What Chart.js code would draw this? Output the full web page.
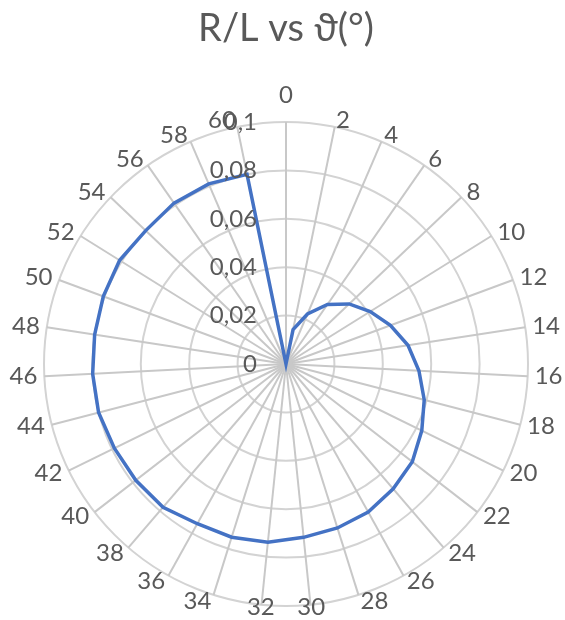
<!DOCTYPE html>
<html>
<head>
<meta charset="utf-8">
<script src="https://cdn.jsdelivr.net/npm/chart.js@4"></script>
<style>
html,body{margin:0;padding:0;background:#ffffff;}
#wrap{width:565px;height:620px;position:relative;}
</style>
</head>
<body>
<div id="wrap"><canvas id="c"></canvas></div>
<script>
// ---- data ----
const categories = ['0','2','4','6','8','10','12','14','16','18','20','22','24','26','28','30',
                    '32','34','36','38','40','42','44','46','48','50','52','54','56','58','60'];
const rValues = [0, 0.0145, 0.0225, 0.030, 0.036, 0.041, 0.046, 0.051, 0.055, 0.059, 0.0625,
                 0.066, 0.068, 0.070, 0.071, 0.072, 0.074, 0.075, 0.0755, 0.078, 0.0785,
                 0.079, 0.080, 0.080, 0.080, 0.0805, 0.081, 0.080, 0.081, 0.081, 0.080];
const tickValues = [0, 0.02, 0.04, 0.06, 0.08, 0.1];
const tickLabels = ['0', '0,02', '0,04', '0,06', '0,08', '0,1'];
const titleText = 'R/L vs \u03D1(\u00B0)';

const FONT = 'Lato, "Open Sans", "Liberation Sans", sans-serif';
const TEXT_COLOR = '#595959';

const labelPlugin = {
  id: 'excelLabels',
  afterDatasetsDraw(chart) {
    const scale = chart.scales.r;
    const ctx = chart.ctx;
    const R = scale.drawingArea;
    ctx.save();
    ctx.font = '24px ' + FONT;
    ctx.fillStyle = TEXT_COLOR;
    ctx.textBaseline = 'middle';
    // radial tick labels, right-aligned left of the vertical axis
    ctx.textAlign = 'right';
    tickValues.forEach((v, i) => {
      const d = scale.getDistanceFromCenterForValue(v);
      ctx.fillText(tickLabels[i], scale.xCenter - 29, scale.yCenter - d);
    });
    // category labels around the circle (Excel-like anchoring)
    const gap = 7;
    categories.forEach((lab, i) => {
      const a = scale.getIndexAngle(i);
      const s = Math.sin(a), c = Math.cos(a);
      const p = scale.getPointPosition(i, R + gap);
      let x = p.x, y = p.y;
      if (Math.abs(s) < 0.15) {
        ctx.textAlign = 'center';
        if (c > 0) y = p.y - 20;
        else y = Math.min(p.y + 12, chart.height - 13);
      } else if (s > 0) {
        ctx.textAlign = 'left';
      } else {
        ctx.textAlign = 'right';
      }
      ctx.fillText(lab, x, y);
    });
    ctx.restore();
  }
};

new Chart(document.getElementById('c'), {
  type: 'radar',
  data: {
    labels: categories,
    datasets: [{
      data: rValues,
      borderColor: '#4472C4',
      borderWidth: 3.5,
      pointRadius: 0,
      pointHoverRadius: 0,
      fill: false,
      tension: 0
    }]
  },
  options: {
    responsive: true,
    maintainAspectRatio: false,
    animation: false,
    layout: { padding: { left: 44, right: 37, top: 0, bottom: 14 } },
    plugins: {
      legend: { display: false },
      tooltip: { enabled: false },
      title: {
        display: true,
        text: titleText,
        color: TEXT_COLOR,
        font: { family: FONT, size: 38, weight: 'normal' },
        padding: { top: 6, bottom: 70.4 }
      }
    },
    scales: {
      r: {
        min: 0,
        max: 0.1,
        ticks: { stepSize: 0.02, display: false },
        pointLabels: { display: false },
        grid: { circular: true, color: '#d3d3d3', lineWidth: 2 },
        angleLines: { color: '#c8c8c8', lineWidth: 2 }
      }
    }
  },
  plugins: [labelPlugin]
});
</script>
</body>
</html>
